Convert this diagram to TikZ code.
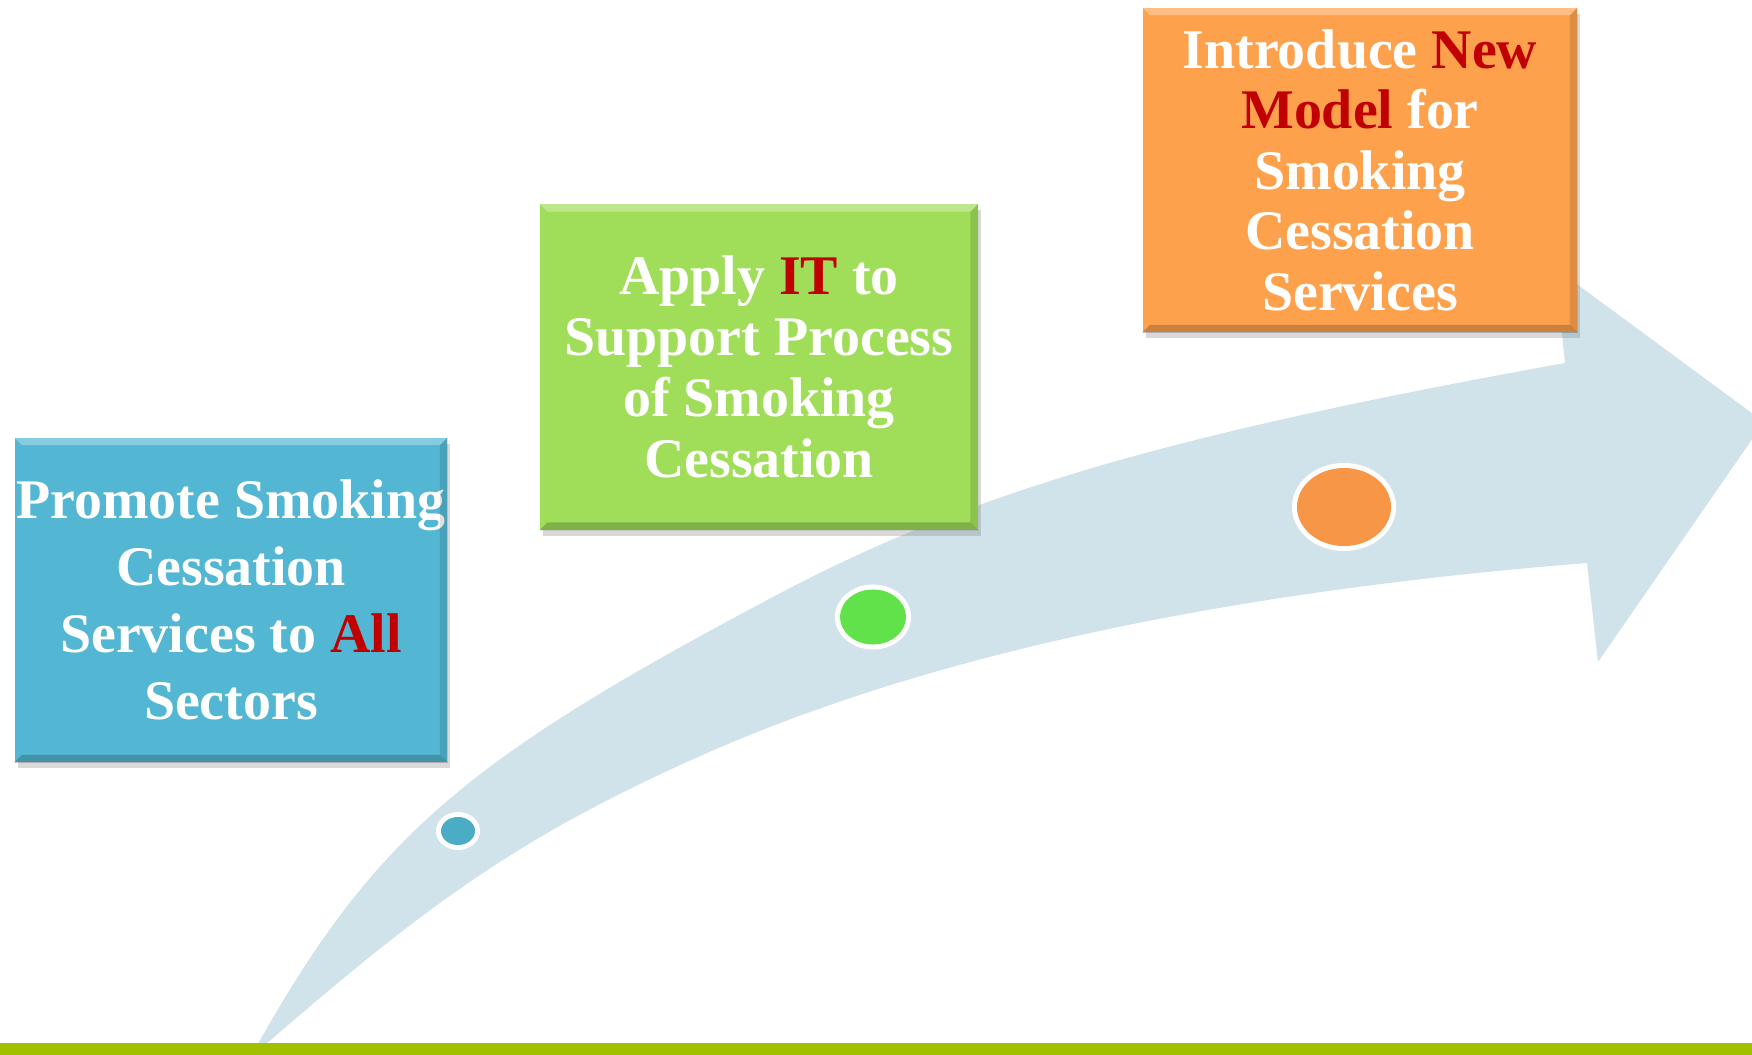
\documentclass[tikz,border=0pt]{standalone}
\usepackage{fontspec}
\setmainfont{Liberation Serif}
\usepackage{xcolor}
\usetikzlibrary{shadows}

\definecolor{arrowfill}{RGB}{208,226,234}
\definecolor{barline}{RGB}{160,192,0}
\definecolor{boxblue}{RGB}{83,183,211}
\definecolor{boxgreen}{RGB}{160,222,90}
\definecolor{boxorange}{RGB}{254,161,77}
\definecolor{dotblue}{RGB}{75,172,198}
\definecolor{dotgreen}{RGB}{98,226,74}
\definecolor{dotorange}{RGB}{247,150,70}
\definecolor{accent}{RGB}{192,0,0}

\begin{document}
\begin{tikzpicture}[x=0.01cm, y=-0.01cm,
    stagebox/.style={minimum height=3.24cm, inner sep=0pt, align=center, text=white,
        drop shadow={opacity=0.3, shadow xshift=0.03cm, shadow yshift=-0.06cm}},
    stagefont/.style={font=\bfseries\fontsize{15.9}{#1}\selectfont}]
    \useasboundingbox (0,0) rectangle (1752,1055);

    % Big curved arrow
    \fill[arrowfill] (250,1058) .. controls (371,840) and (459,763) .. (773,597)
        .. controls (968,493) and (1166,435) .. (1565,363)
        -- (1555,268) -- (1764,422) -- (1598,662) -- (1587,563)
        .. controls (1223,592) and (930,655) .. (707,753)
        .. controls (522,835) and (431,900) .. (250,1058) -- cycle;

    % Dots on the arrow
    \fill[white] (458,831) ellipse [x radius=0.22cm, y radius=0.19cm];
    \fill[dotblue] (458,831) ellipse [x radius=0.17cm, y radius=0.14cm];
    \fill[white] (873,617) ellipse [x radius=0.38cm, y radius=0.325cm];
    \fill[dotgreen] (873,617) ellipse [x radius=0.33cm, y radius=0.275cm];
    \fill[white] (1344,507) ellipse [x radius=0.52cm, y radius=0.44cm];
    \fill[dotorange] (1344,507) ellipse [x radius=0.47cm, y radius=0.39cm];

    % Boxes
    \node[stagebox, stagefont=19, fill=boxblue, minimum width=4.32cm] (promote) at (231,600)
        {Promote Smoking\\Cessation\\Services to \textcolor{accent}{All}\\Sectors};
    \node[stagebox, stagefont=17.4, fill=boxgreen, minimum width=4.37cm, minimum height=3.25cm] (apply) at (759,367)
        {Apply \textcolor{accent}{IT} to\\Support Process\\of Smoking\\Cessation};
    \node[stagebox, stagefont=17.2, fill=boxorange, minimum width=4.34cm] (introduce) at (1360,170)
        {Introduce \textcolor{accent}{New}\\\textcolor{accent}{Model} for\\Smoking\\Cessation\\Services};

    % Bevel edges
    \foreach \n in {promote, apply, introduce} {
        \fill[white, opacity=0.3] (\n.north west) -- (\n.north east) -- ([xshift=-0.08cm, yshift=-0.08cm]\n.north east) -- ([xshift=0.08cm, yshift=-0.08cm]\n.north west) -- cycle;
        \fill[black, opacity=0.2] (\n.south west) -- (\n.south east) -- ([xshift=-0.08cm, yshift=0.08cm]\n.south east) -- ([xshift=0.08cm, yshift=0.08cm]\n.south west) -- cycle;
        \fill[black, opacity=0.12] (\n.north east) -- (\n.south east) -- ([xshift=-0.08cm, yshift=0.08cm]\n.south east) -- ([xshift=-0.08cm, yshift=-0.08cm]\n.north east) -- cycle;
    }

    % Bottom bar
    \fill[barline] (0,1043) rectangle (1752,1055);
\end{tikzpicture}
\end{document}
